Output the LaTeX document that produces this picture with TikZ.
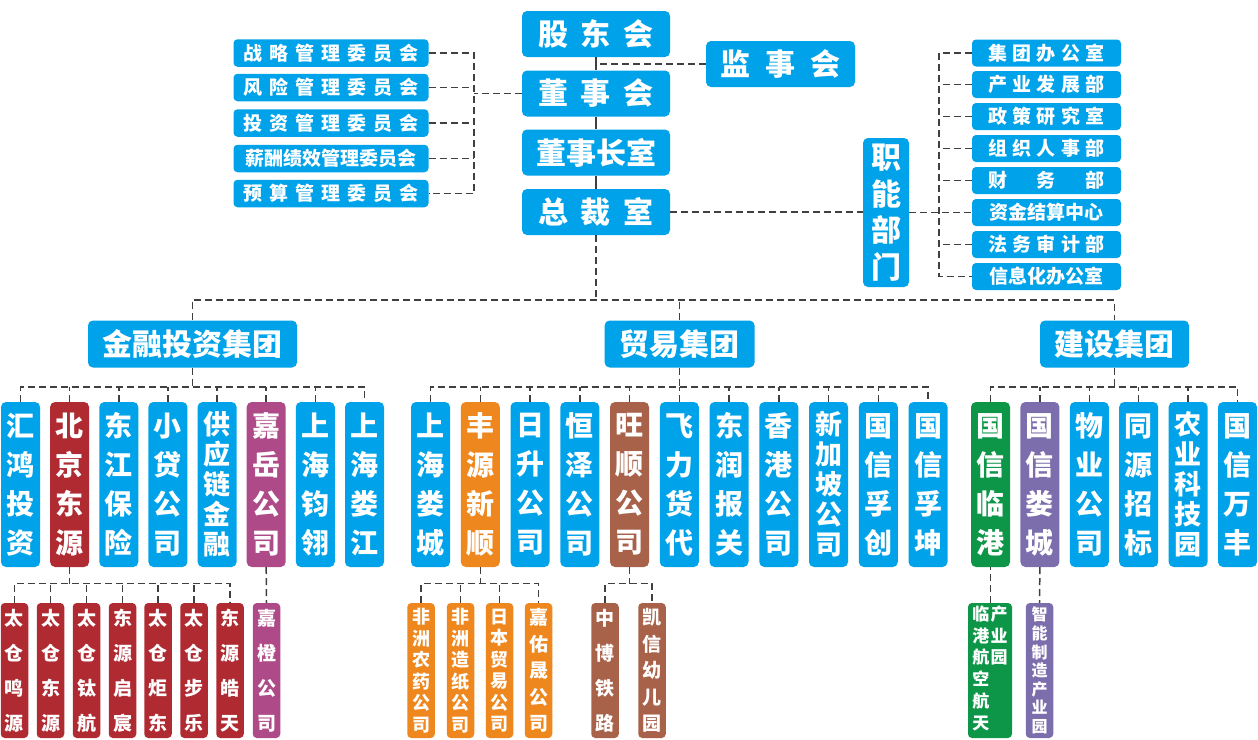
\documentclass[tikz,border=0pt]{standalone}
\usepackage{fontspec}
\newfontfamily\cjk{Noto Sans CJK SC}
\definecolor{cblue}{RGB}{0,162,233}
\definecolor{cred}{RGB}{176,42,50}
\definecolor{cpink}{RGB}{174,74,136}
\definecolor{corange}{RGB}{238,135,30}
\definecolor{cbrown}{RGB}{168,98,74}
\definecolor{cgreen}{RGB}{14,150,72}
\definecolor{cpurple}{RGB}{124,110,172}
\definecolor{lineclr}{RGB}{64,64,64}
\newcommand\gapA{\hspace{7pt}}
\newcommand\gapB{\hspace{5.5pt}}
\newcommand\gapT{\hspace{13pt}}
\tikzset{
  base/.style={rounded corners=5pt, text=white, inner sep=0pt},
  topbox/.style={base, fill=cblue, minimum width=148pt, minimum height=46pt, font=\cjk\bfseries\fontsize{30}{36.5}\selectfont},
  cbox/.style={base, rounded corners=4pt, fill=cblue, minimum width=195pt, minimum height=27.5pt, font=\cjk\bfseries\fontsize{19}{22}\selectfont},
  dbox/.style={base, rounded corners=4pt, fill=cblue, minimum width=149pt, minimum height=27pt, font=\cjk\bfseries\fontsize{19}{22}\selectfont},
  gbox/.style={base, fill=cblue, minimum height=47pt, font=\cjk\bfseries\fontsize{30}{36}\selectfont},
  comp/.style={base, fill=cblue, minimum width=39pt, minimum height=165pt, align=center, font=\cjk\bfseries\fontsize{28}{39}\selectfont},
  comp5/.style={comp, font=\cjk\bfseries\fontsize{27}{30}\selectfont},
  sub/.style={base, rounded corners=4pt, minimum width=27.5pt, minimum height=135pt, align=center, font=\cjk\bfseries\fontsize{19}{35}\selectfont},
  sub5/.style={sub, font=\cjk\bfseries\fontsize{19}{26.5}\selectfont},
  sub6/.style={sub, font=\cjk\bfseries\fontsize{18}{21.5}\selectfont},
  conn/.style={draw=lineclr, line width=1.5pt, dash pattern=on 7pt off 4pt},
  solidln/.style={draw=lineclr, line width=1.5pt},
}
\begin{document}
\begin{tikzpicture}[x=1pt,y=-1pt]
\useasboundingbox (0,0) rectangle (1258,739);

% top column
\node[topbox] (gdh) at (596,34) {股\gapT 东\gapT 会};
\node[topbox] (dsh) at (596,93.5) {董\gapT 事\gapT 会};
\node[topbox] (dszs) at (596,152.5) {董事长室};
\node[topbox] (zcs) at (596,212) {总\gapT 裁\gapT 室};
\node[topbox, minimum width=149pt] (jsh) at (780.5,64) {监\hspace{15pt}事\hspace{15pt}会};
\node[topbox, minimum width=46pt, minimum height=149pt, align=center] (zn) at (886,212.5) {职\\能\\部\\门};

% committees
\node[cbox] (c1) at (331,53) {战\gapA 略\gapA 管\gapA 理\gapA 委\gapA 员\gapA 会};
\node[cbox] (c2) at (331,87.5) {风\gapA 险\gapA 管\gapA 理\gapA 委\gapA 员\gapA 会};
\node[cbox] (c3) at (331,123) {投\gapA 资\gapA 管\gapA 理\gapA 委\gapA 员\gapA 会};
\node[cbox] (c4) at (331,158.5) {薪酬绩效管理委员会};
\node[cbox] (c5) at (331,193.5) {预\gapA 算\gapA 管\gapA 理\gapA 委\gapA 员\gapA 会};

% departments
\node[dbox] (d1) at (1046.5,53) {集\gapB 团\gapB 办\gapB 公\gapB 室};
\node[dbox] (d2) at (1046.5,84.5) {产\gapB 业\gapB 发\gapB 展\gapB 部};
\node[dbox] (d3) at (1046.5,116.5) {政\gapB 策\gapB 研\gapB 究\gapB 室};
\node[dbox] (d4) at (1046.5,148.5) {组\gapB 织\gapB 人\gapB 事\gapB 部};
\node[dbox] (d5) at (1046.5,180.5) {财\hspace{30pt}务\hspace{30pt}部};
\node[dbox] (d6) at (1046.5,212.5) {资金结算中心};
\node[dbox] (d7) at (1046.5,244.5) {法\gapB 务\gapB 审\gapB 计\gapB 部};
\node[dbox] (d8) at (1046.5,276.5) {信息化办公室};

% groups
\node[gbox, minimum width=209pt] (g1) at (192.5,344) {金融投资集团};
\node[gbox, minimum width=150pt] (g2) at (679.6,344) {贸易集团};
\node[gbox, minimum width=149pt] (g3) at (1114.5,344) {建设集团};

% finance companies
\node[comp] (f1) at (20.5,484.5) {汇\\鸿\\投\\资};
\node[comp, fill=cred] (f2) at (69.6,484.5) {北\\京\\东\\源};
\node[comp] (f3) at (118.8,484.5) {东\\江\\保\\险};
\node[comp] (f4) at (167.9,484.5) {小\\贷\\公\\司};
\node[comp5] (f5) at (217.1,484.5) {供\\应\\链\\金\\融};
\node[comp, fill=cpink] (f6) at (266.2,484.5) {嘉\\岳\\公\\司};
\node[comp] (f7) at (315.3,484.5) {上\\海\\钧\\翎};
\node[comp] (f8) at (364.5,484.5) {上\\海\\娄\\江};

% trade companies
\node[comp] (t1) at (430.5,484.5) {上\\海\\娄\\城};
\node[comp, fill=corange] (t2) at (480.3,484.5) {丰\\源\\新\\顺};
\node[comp] (t3) at (530,484.5) {日\\升\\公\\司};
\node[comp] (t4) at (579.8,484.5) {恒\\泽\\公\\司};
\node[comp, fill=cbrown] (t5) at (629.5,484.5) {旺\\顺\\公\\司};
\node[comp] (t6) at (679.3,484.5) {飞\\力\\货\\代};
\node[comp] (t7) at (729,484.5) {东\\润\\报\\关};
\node[comp] (t8) at (778.8,484.5) {香\\港\\公\\司};
\node[comp5] (t9) at (828.5,484.5) {新\\加\\坡\\公\\司};
\node[comp] (t10) at (878.3,484.5) {国\\信\\孚\\创};
\node[comp] (t11) at (928,484.5) {国\\信\\孚\\坤};

% construction companies
\node[comp, fill=cgreen] (k1) at (990.5,484.5) {国\\信\\临\\港};
\node[comp, fill=cpurple] (k2) at (1039.9,484.5) {国\\信\\娄\\城};
\node[comp] (k3) at (1089.3,484.5) {物\\业\\公\\司};
\node[comp] (k4) at (1138.7,484.5) {同\\源\\招\\标};
\node[comp5] (k5) at (1188.1,484.5) {农\\业\\科\\技\\园};
\node[comp] (k6) at (1237.5,484.5) {国\\信\\万\\丰};

% bottom row: Beijing Dongyuan
\node[sub, fill=cred] (b1) at (14.5,670.5) {太\\仓\\鸣\\源};
\node[sub, fill=cred] (b2) at (50.5,670.5) {太\\仓\\东\\源};
\node[sub, fill=cred] (b3) at (86.5,670.5) {太\\仓\\钛\\航};
\node[sub, fill=cred] (b4) at (122.5,670.5) {东\\源\\启\\宸};
\node[sub, fill=cred] (b5) at (158,670.5) {太\\仓\\炬\\东};
\node[sub, fill=cred] (b6) at (194,670.5) {太\\仓\\步\\乐};
\node[sub, fill=cred] (b7) at (230,670.5) {东\\源\\皓\\天};
\node[sub, fill=cpink] (jc) at (266.5,670.5) {嘉\\橙\\公\\司};

% bottom row: Fengyuan Xinshun
\node[sub6, fill=corange] (o1) at (421,670.5) {非\\洲\\农\\药\\公\\司};
\node[sub6, fill=corange] (o2) at (460.5,670.5) {非\\洲\\造\\纸\\公\\司};
\node[sub6, fill=corange] (o3) at (499.5,670.5) {日\\本\\贸\\易\\公\\司};
\node[sub5, fill=corange] (o4) at (538.5,670.5) {嘉\\佑\\晟\\公\\司};

% bottom row: Wangshun
\node[sub, fill=cbrown] (w1) at (605,670.5) {中\\博\\铁\\路};
\node[sub5, fill=cbrown] (w2) at (652,670.5) {凯\\信\\幼\\儿\\园};

% bottom row: construction
\node[sub, fill=cgreen, minimum width=44pt, font=\cjk\bfseries\fontsize{17}{21.7}\selectfont] (lg) at (990,670.5)
  {\begin{tabular}{@{}c@{\hspace{1.3pt}}c@{}}临&产\\港&业\\航&园\\空&\\航&\\天&\end{tabular}};
\node[sub, fill=cpurple, font=\cjk\bfseries\fontsize{16}{18.6}\selectfont] (zz) at (1039.5,670.5) {智\\能\\制\\造\\产\\业\\园};

% connectors
\draw[solidln] (gdh) -- (dsh);
\draw[solidln] (dsh) -- (dszs);
\draw[solidln] (dszs) -- (zcs);
\draw[conn] (jsh.west) -- (jsh.west -| gdh.south);

\coordinate (cb) at (474,0);
\draw[conn] (c1.east) -- (c1.east -| cb) -- (c5.east -| cb) -- (c5.east);
\foreach \n in {c2,c3,c4} \draw[conn] (\n.east) -- (\n.east -| cb);
\draw[conn] (dsh.west) -- (dsh.west -| cb);

\coordinate (db) at (939,0);
\draw[conn] (d1.west) -- (d1.west -| db) -- (d8.west -| db) -- (d8.west);
\foreach \n in {d2,d3,d4,d5,d7} \draw[conn] (\n.west) -- (\n.west -| db);
\draw[conn] (zcs.east) -- (zcs.east -| zn.west);
\draw[conn] (zn.east) -- (d6.west);

\coordinate (mb) at (0,300);
\draw[conn] (zcs.south) -- (zcs.south |- mb);
\draw[conn] (g1.north) -- (g1.north |- mb) -- (g3.north |- mb) -- (g3.north);
\draw[conn] (g2.north) -- (g2.north |- mb);

\coordinate (sb) at (0,387);
\draw[conn] (g1.south) -- (g1.south |- sb);
\draw[conn] (f1.north) -- (f1.north |- sb) -- (f8.north |- sb) -- (f8.north);
\foreach \n in {f2,f3,f4,f5,f6,f7} \draw[conn] (\n.north) -- (\n.north |- sb);
\draw[conn] (g2.south) -- (g2.south |- sb);
\draw[conn] (t1.north) -- (t1.north |- sb) -- (t11.north |- sb) -- (t11.north);
\foreach \n in {t2,t3,t4,t5,t6,t7,t8,t9,t10} \draw[conn] (\n.north) -- (\n.north |- sb);
\draw[conn] (g3.south) -- (g3.south |- sb);
\draw[conn] (k1.north) -- (k1.north |- sb) -- (k6.north |- sb) -- (k6.north);
\foreach \n in {k2,k3,k4,k5} \draw[conn] (\n.north) -- (\n.north |- sb);

\coordinate (bb) at (0,583.5);
\draw[conn] (f2.south) -- (f2.south |- bb);
\draw[conn] (b1.north) -- (b1.north |- bb) -- (b7.north |- bb) -- (b7.north);
\foreach \n in {b2,b3,b4,b5,b6} \draw[conn] (\n.north) -- (\n.north |- bb);
\draw[conn] (f6.south) -- (jc.north);
\draw[conn] (t2.south) -- (t2.south |- bb);
\draw[conn] (o1.north) -- (o1.north |- bb) -- (o4.north |- bb) -- (o4.north);
\foreach \n in {o2,o3} \draw[conn] (\n.north) -- (\n.north |- bb);
\draw[conn] (t5.south) -- (t5.south |- bb);
\draw[conn] (w1.north) -- (w1.north |- bb) -- (w2.north |- bb) -- (w2.north);
\draw[conn] (k1.south |- lg.north) -- (k1.south);
\draw[conn] (k2.south) -- (zz.north);
\end{tikzpicture}
\end{document}
